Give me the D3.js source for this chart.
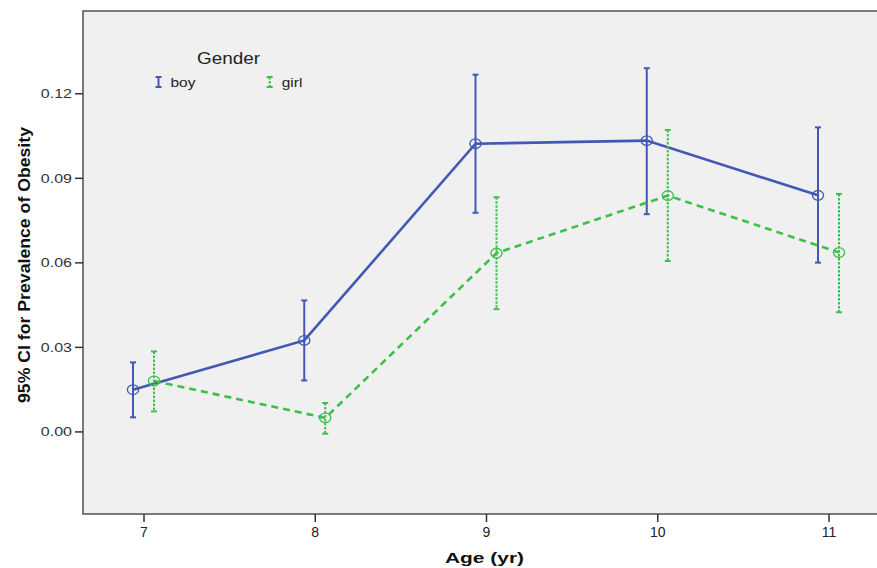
<!DOCTYPE html>
<html>
<head>
<meta charset="utf-8">
<script src="https://cdn.jsdelivr.net/npm/d3@7/dist/d3.min.js"></script>
<style>
  body { margin: 0; background: #fff; }
  svg text { font-family: "Liberation Sans", Arial, sans-serif; }
</style>
</head>
<body>
<svg id="chart" width="877" height="568"></svg>
<script>
// data
var ages = [7, 8, 9, 10, 11]
var boyMean  = [0.0148, 0.0323, 0.1021, 0.1032, 0.0838]
var boyUpper = [0.0245, 0.0465, 0.1266, 0.1289, 0.1079]
var boyLower = [0.0050, 0.0181, 0.0776, 0.0771, 0.0599]
var girlMean  = [0.0179, 0.0048, 0.0633, 0.0837, 0.0635]
var girlUpper = [0.0284, 0.0101, 0.0831, 0.1070, 0.0843]
var girlLower = [0.0071, -0.0008, 0.0434, 0.0605, 0.0423]
var yTicks = [0.00, 0.03, 0.06, 0.09, 0.12]

var blue = "#4159b3"
var green = "#3cc048"

var svg = d3.select("#chart")
// plot frame (window.top is reserved, so use other names)
var pLeft = 83, pTop = 11, pRight = 889, pBottom = 514

var x = d3.scaleLinear().domain([6.6467, 11.3533]).range([pLeft, pRight])
var y = d3.scaleLinear().domain([-0.0293, 0.1492]).range([pBottom, pTop])
var off = 0.0613  // side-by-side dodge

var series = [
    { name: "boy", mean: boyMean, up: boyUpper, lo: boyLower, color: blue, dx: -off, dash: null, barDash: null },
    { name: "girl", mean: girlMean, up: girlUpper, lo: girlLower, color: green, dx: off, dash: "7,5", barDash: "2.5,1.5" }
]

// the reference text is drawn a bit wide, so stretch it
function stretch(sel, k) {
    sel.each(function () {
        var w = this.getComputedTextLength()
        d3.select(this).attr("textLength", w * k).attr("lengthAdjust", "spacingAndGlyphs")
    })
}

// plot area
svg.append("rect")
    .attr("x", pLeft).attr("y", pTop)
    .attr("width", pRight - pLeft).attr("height", pBottom - pTop)
    .style("fill", "#f0f0f0")
    .style("stroke", "#5a5a5a")
    .style("stroke-width", 1.6)

// axes
var yAxis = svg.append("g")
    .attr("transform", "translate(" + pLeft + ",0)")
    .call(d3.axisLeft(y).tickValues(yTicks).tickFormat(d3.format(".2f")).tickSize(8).tickPadding(3))
yAxis.select(".domain").remove()
yAxis.selectAll("line").style("stroke", "#333").style("stroke-width", 1.5)
yAxis.selectAll("text").style("font-size", "12.5px").style("fill", "#333").attr("dy", "0.36em")
stretch(yAxis.selectAll("text"), 1.28)

var xAxis = svg.append("g")
    .attr("transform", "translate(0," + pBottom + ")")
    .call(d3.axisBottom(x).tickValues(ages).tickFormat(d3.format("d")).tickSize(8).tickPadding(5))
xAxis.select(".domain").remove()
xAxis.selectAll("line").style("stroke", "#333").style("stroke-width", 1.5)
xAxis.selectAll("text").style("font-size", "14px").style("fill", "#222")

// axis titles
svg.append("text")
    .attr("x", 484.5).attr("y", 562.5)
    .attr("text-anchor", "middle")
    .attr("textLength", 79).attr("lengthAdjust", "spacingAndGlyphs")
    .style("font-size", "15.5px").style("font-weight", "bold").style("fill", "#111")
    .text("Age (yr)")

svg.append("text")
    .attr("transform", "translate(30," + 265 + ") rotate(-90)")
    .attr("text-anchor", "middle")
    .attr("textLength", 276).attr("lengthAdjust", "spacingAndGlyphs")
    .style("font-size", "17px").style("font-weight", "bold").style("fill", "#111")
    .text("95% CI for Prevalence of Obesity")

// series
series.forEach(function (s) {
    var pts = ages.map(function (a, i) { return { a: a, m: s.mean[i], u: s.up[i], l: s.lo[i] } })
    var g = svg.append("g")

    var line = d3.line()
        .x(function (d) { return x(d.a + s.dx) })
        .y(function (d) { return y(d.m) })

    g.append("path")
        .datum(pts)
        .attr("d", line)
        .style("fill", "none")
        .style("stroke", s.color)
        .style("stroke-width", 2.6)
        .style("stroke-dasharray", s.dash)

    g.selectAll(".bar").data(pts).enter().append("line")
        .attr("x1", function (d) { return x(d.a + s.dx) })
        .attr("x2", function (d) { return x(d.a + s.dx) })
        .attr("y1", function (d) { return y(d.u) })
        .attr("y2", function (d) { return y(d.l) })
        .style("stroke", s.color)
        .style("stroke-width", 2)
        .style("stroke-dasharray", s.barDash)

    ;["u", "l"].forEach(function (k) {
        g.selectAll(".cap" + k).data(pts).enter().append("line")
            .attr("x1", function (d) { return x(d.a + s.dx) - 3 })
            .attr("x2", function (d) { return x(d.a + s.dx) + 3 })
            .attr("y1", function (d) { return y(d[k]) })
            .attr("y2", function (d) { return y(d[k]) })
            .style("stroke", s.color)
            .style("stroke-width", 2)
    })

    g.selectAll("ellipse").data(pts).enter().append("ellipse")
        .attr("cx", function (d) { return x(d.a + s.dx) })
        .attr("cy", function (d) { return y(d.m) })
        .attr("rx", 5.6)
        .attr("ry", 4.8)
        .style("fill", "none")
        .style("stroke", s.color)
        .style("stroke-width", 1.3)
})

// legend
var legend = svg.append("g")
legend.append("text")
    .attr("x", 228.5).attr("y", 63.5)
    .attr("text-anchor", "middle")
    .attr("textLength", 63).attr("lengthAdjust", "spacingAndGlyphs")
    .style("font-size", "16px").style("fill", "#222")
    .text("Gender")

var legX = [158.5, 269.7]
series.forEach(function (s, i) {
    var lg = legend.append("g").attr("transform", "translate(" + legX[i] + ",82)")
    lg.append("line").attr("x1", 0).attr("x2", 0).attr("y1", -5).attr("y2", 5)
        .style("stroke", s.color).style("stroke-width", 2)
        .style("stroke-dasharray", s.barDash)
    lg.append("line").attr("x1", -3).attr("x2", 3).attr("y1", -5).attr("y2", -5)
        .style("stroke", s.color).style("stroke-width", 2)
    lg.append("line").attr("x1", -3).attr("x2", 3).attr("y1", 5).attr("y2", 5)
        .style("stroke", s.color).style("stroke-width", 2)
    var t = lg.append("text")
        .attr("x", 12).attr("y", 5)
        .style("font-size", "13px").style("fill", "#222")
        .text(s.name)
    stretch(t, 1.19)
})
</script>
</body>
</html>
